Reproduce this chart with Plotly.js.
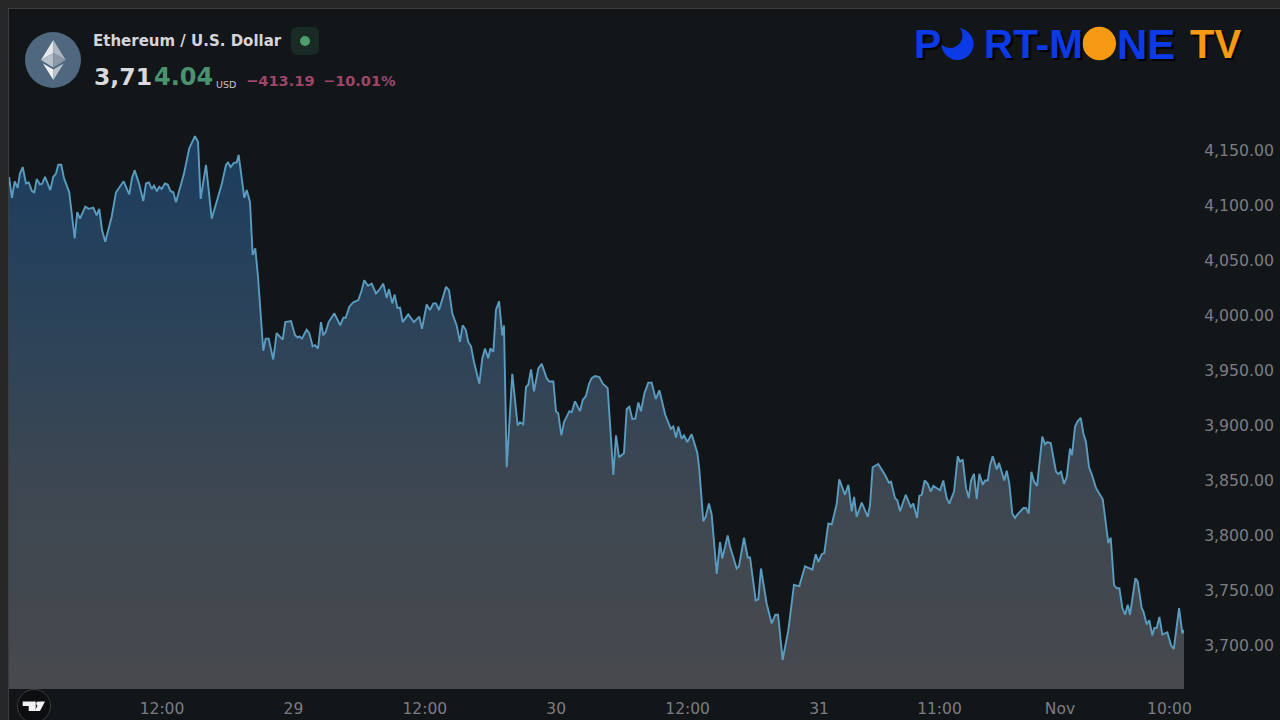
<!DOCTYPE html>
<html><head><meta charset="utf-8">
<script src="https://cdn.plot.ly/plotly-3.0.1.min.js"></script>
<style>html,body{margin:0;padding:0;background:#131619;overflow:hidden}#c{width:1280px;height:720px}</style>
</head><body><div id="c"></div>
<script>
// hours of trading time, counted from 28 Oct 00:00 on the chart's time scale
const hours = [-1.97,-1.70,-1.45,-1.18,-0.97,-0.72,-0.42,-0.17,0.13,0.34,0.56,0.86,1.07,1.32,1.80,2.07,2.32,2.53,2.80,3.05,3.53,3.78,4.03,4.26,4.51,5.00,5.31,5.73,6.04,6.27,6.52,6.82,7.41,7.80,8.50,9.01,9.26,9.51,9.93,10.29,10.54,10.81,11.06,11.27,11.52,11.75,11.97,12.27,12.52,12.79,13.03,13.28,13.64,14.01,14.49,15.01,15.29,15.53,16.02,16.54,17.45,17.85,18.03,18.27,18.58,18.82,19.00,19.24,19.52,19.74,20.04,20.28,20.52,20.77,21.25,21.47,21.74,22.16,22.47,23.02,23.26,23.78,24.15,24.39,24.54,24.78,25.21,25.45,25.76,25.97,26.25,26.52,26.73,26.95,27.22,27.74,28.28,28.56,28.78,29.11,29.47,29.93,30.24,30.47,30.81,31.15,31.54,31.82,32.21,32.52,32.73,33.03,33.25,33.49,33.74,33.98,34.49,35.01,35.50,35.74,36.17,36.47,36.78,37.02,37.30,37.94,38.21,38.51,38.91,39.21,39.46,39.74,39.97,40.22,40.49,40.98,41.25,41.50,41.80,41.98,42.26,42.50,42.78,43.08,43.23,43.48,43.99,44.48,44.69,44.99,45.24,45.45,45.70,45.97,46.37,46.68,47.13,47.37,47.74,47.98,48.19,48.47,48.71,49.20,49.42,49.72,50.17,50.42,50.72,51.00,51.24,51.54,51.94,52.25,52.70,53.22,53.46,53.74,54.19,54.44,54.68,54.95,55.22,55.50,55.74,56.05,56.41,56.72,57.09,57.42,57.95,58.15,58.46,58.69,58.94,59.15,59.46,59.67,59.97,60.37,60.89,61.07,61.43,61.65,61.95,62.20,62.66,62.96,63.17,63.66,63.87,64.48,64.69,65.15,65.49,65.70,66.22,66.46,66.70,67.22,67.68,68.01,68.26,68.68,69.20,69.71,70.20,70.72,71.39,71.70,71.94,72.25,72.48,72.85,73.16,73.62,73.85,74.37,74.68,74.99,75.20,75.44,75.90,76.45,76.66,76.90,77.41,78.03,78.39,78.57,78.94,79.15,79.40,79.92,80.37,80.61,80.95,81.16,81.38,81.65,81.93,82.20,82.44,83.05,83.35,83.66,83.90,84.33,84.67,84.88,85.12,85.43,85.67,85.88,86.15,86.40,86.64,86.95,87.16,87.41,87.62,87.86,88.23,88.44,88.92,89.14,89.38,89.65,89.90,90.11,90.66,90.90,91.15,91.39,91.63,91.91,92.39,92.64,92.85,93.16,93.64,93.85,94.10,94.37,94.62,94.92,95.10,95.38,95.63,95.90,96.14,96.38,96.66,96.93,97.30,97.91,98.42,98.64,98.94,99.19,99.43,99.70,99.95,100.19,100.40,100.89,101.10,101.47,101.62,101.93,102.16,102.44,102.62,102.84,103.08,103.35,103.81,104.15,104.40,104.88,105.18,105.33];
const prices = [4126,4107,4122,4116,4129,4135,4120,4121,4113,4112,4124,4119,4120,4126,4114,4126,4129,4137,4137,4125,4112,4093,4070,4094,4088,4099,4097,4098,4091,4097,4078,4067,4090,4112,4122,4110,4125,4132,4119,4104,4120,4121,4115,4118,4113,4117,4115,4120,4119,4113,4112,4103,4116,4129,4152,4163,4158,4106,4137,4088,4119,4137,4139,4135,4139,4139,4146,4129,4107,4114,4103,4055,4061,4035,3968,3979,3979,3960,3984,3978,3994,3995,3982,3980,3981,3979,3987,3984,3972,3973,3970,3994,3982,3985,3994,4002,3991,3998,3998,4008,4012,4014,4023,4032,4027,4029,4020,4023,4029,4016,4024,4011,4019,4007,4007,3994,4001,3994,3999,3988,4010,4005,4011,4011,4005,4026,4023,4002,3991,3976,3991,3987,3976,3972,3958,3938,3961,3970,3961,3970,3967,4005,4013,3982,3991,3862,3947,3900,3903,3901,3935,3937,3951,3931,3952,3956,3943,3940,3940,3913,3911,3891,3903,3913,3912,3922,3913,3923,3927,3938,3943,3945,3944,3938,3934,3855,3891,3871,3875,3915,3917,3906,3906,3921,3913,3929,3939,3939,3924,3932,3910,3905,3897,3899,3889,3899,3888,3891,3885,3892,3875,3860,3813,3817,3829,3819,3765,3794,3779,3800,3790,3770,3772,3798,3780,3780,3741,3742,3770,3738,3720,3728,3728,3687,3714,3755,3754,3772,3769,3783,3776,3783,3784,3811,3810,3829,3851,3837,3846,3822,3835,3817,3830,3817,3828,3862,3865,3855,3848,3849,3834,3832,3822,3837,3826,3829,3816,3836,3837,3850,3847,3840,3845,3841,3850,3834,3829,3840,3872,3867,3869,3843,3834,3850,3856,3833,3856,3846,3850,3850,3864,3872,3860,3866,3850,3859,3847,3820,3816,3819,3825,3825,3820,3858,3849,3845,3890,3883,3885,3884,3858,3856,3858,3847,3853,3879,3873,3899,3904,3907,3893,3885,3862,3855,3843,3833,3793,3798,3755,3752,3752,3734,3728,3737,3728,3761,3758,3734,3731,3719,3723,3709,3716,3716,3726,3710,3712,3700,3697,3734,3711,3714];
const xTickVals = [12,24,36,48,60,72,83,94,104];
const xTickText = ['12:00','29','12:00','30','12:00','31','11:00','Nov','10:00'];
const yTickVals = [3700,3750,3800,3850,3900,3950,4000,4050,4100,4150];
const yTickText = ['3,700.00','3,750.00','3,800.00','3,850.00','3,900.00','3,950.00','4,000.00','4,050.00','4,100.00','4,150.00'];

const L=9,R=1184,T=9,B=689;
const fx=x=>(x-L)/(R-L), fy=y=>(B-y)/(B-T);
const FONT='"DejaVu Sans", sans-serif';
function note(text,x,y,size,color,opt){opt=opt||{};return {text,x:fx(x),y:fy(y),xref:'paper',yref:'paper',xanchor:opt.anchor||'left',yanchor:'middle',showarrow:false,borderpad:0,
  font:{family:opt.family||FONT,size,color,weight:opt.weight||'normal',shadow:opt.shadow||'none'}};}
function rect(x0,y0,x1,y1,fill,extra){return Object.assign({type:'rect',xref:'paper',yref:'paper',x0:fx(x0),x1:fx(x1),y0:fy(y1),y1:fy(y0),fillcolor:fill,line:{width:0}},extra||{});}
function circ(cx,cy,r,fill,extra){return Object.assign({type:'circle',xref:'paper',yref:'paper',x0:fx(cx-r),x1:fx(cx+r),y0:fy(cy+r),y1:fy(cy-r),fillcolor:fill,line:{width:0}},extra||{});}
function poly(pts,fill){return {type:'path',xref:'paper',yref:'paper',path:'M'+pts.map(p=>fx(p[0])+','+fy(p[1])).join('L')+'Z',fillcolor:fill,line:{width:0}};}
function round(x0,y0,x1,y1,r,fill){const P=(x,y)=>fx(x)+','+fy(y);return {type:'path',xref:'paper',yref:'paper',fillcolor:fill,line:{width:0},
  path:'M'+P(x0+r,y0)+'L'+P(x1-r,y0)+'Q'+P(x1,y0)+' '+P(x1,y0+r)+'L'+P(x1,y1-r)+'Q'+P(x1,y1)+' '+P(x1-r,y1)+'L'+P(x0+r,y1)+'Q'+P(x0,y1)+' '+P(x0,y1-r)+'L'+P(x0,y0+r)+'Q'+P(x0,y0)+' '+P(x0+r,y0)+'Z'};}

const BLUE='#0c3ae6',ORANGE='#f59a12',SH='2px 2px 1px #000';
const logo={family:'"Liberation Sans",sans-serif',weight:'bold',shadow:SH};
const annotations=[
  note('Ethereum / U.S. Dollar',92,41,15,'#d3d5da',{weight:'bold'}),
  note('3,71',93,77.5,23.5,'#d8dade',{weight:'bold'}),
  note('4.04',152.5,77.5,24,'#4a9270',{weight:'bold'}),
  note('USD',215,84.5,9.5,'#c4c6cc'),
  note('−413.19',244.5,81,14.6,'#9c4669',{weight:'bold'}),
  note('−10.01%',321.5,81,14.5,'#9c4669',{weight:'bold'}),
  note('P',913,44,41,BLUE,logo),
  note('RT-M',983,44,40.5,BLUE,logo),
  note('NE',1116,44,42,BLUE,logo),
  note('TV',1189,44,40,ORANGE,logo)
];
const shapes=[
  rect(0,0,1280,8,'#272727'),rect(0,0,8,720,'#272727'),
  rect(8,8,1280,9,'#3d3d3d'),rect(8,8,9,720,'#3d3d3d'),
  circ(53,60,28,'#4f6880'),
  poly([[53.3,40],[41,60],[53.3,53]],'#e4e8ec'),poly([[53.3,40],[65.7,60],[53.3,53]],'#aeb7c2'),
  poly([[41,60],[53.3,53],[53.3,67.5]],'#b8c0cb'),poly([[65.7,60],[53.3,53],[53.3,67.5]],'#8c98a8'),
  poly([[43,63.5],[53.3,69.5],[53.3,80]],'#eef0f3'),poly([[63.7,63.5],[53.3,69.5],[53.3,80]],'#bcc4ce'),
  round(291,27,319,55,7,'#1a2a24'),
  circ(305,41,5,'#4c9e6a'),
  circ(957.5,44,16,BLUE),circ(950,35.5,12.5,'#131619'),
  circ(1099.3,43.5,16.7,ORANGE),
  circ(34,706,16.5,'#0d0e10',{line:{width:1,color:'#3a3b3d'}}),
  poly([[22.7,701.5],[35.7,701.5],[35.7,711],[28.7,711],[28.7,706],[22.7,706]],'#f2f2f2'),
  circ(38.3,703.6,2.2,'#f2f2f2'),
  poly([[39.5,701.5],[45,701.5],[40,711],[34.8,711]],'#f2f2f2')
];

Plotly.newPlot('c',[{
  type:'scatter',mode:'lines',x:hours,y:prices,
  line:{color:'#5a9cc0',width:1.9,shape:'linear'},
  fill:'tozeroy',
  fillgradient:{type:'vertical',start:3660,stop:4165,colorscale:[[0,'#47494d'],[0.35,'#3e4751'],[0.65,'#2c4359'],[1,'#1b3d5f']]},
  hoverinfo:'skip'
}],{
  width:1280,height:720,
  margin:{l:L,r:1280-R,t:T,b:720-B,pad:0},
  paper_bgcolor:'#131619',plot_bgcolor:'#131619',
  showlegend:false,
  xaxis:{type:'linear',range:[-1.97,105.33],tickmode:'array',tickvals:xTickVals,ticktext:xTickText,showgrid:false,zeroline:false,showline:false,
    ticks:'outside',ticklen:5,tickwidth:0,tickcolor:'rgba(0,0,0,0)',tickfont:{family:FONT,size:15.5,color:'#7b7d82'}},
  yaxis:{type:'linear',side:'right',range:[3660.45,4278.64],tickmode:'array',tickvals:yTickVals,ticktext:yTickText,showgrid:false,zeroline:false,showline:false,
    ticks:'outside',ticklen:16,tickwidth:0,tickcolor:'rgba(0,0,0,0)',tickfont:{family:FONT,size:15.7,color:'#7b7d82'}},
  annotations,shapes
},{displayModeBar:false,staticPlot:true});
</script></body></html>
